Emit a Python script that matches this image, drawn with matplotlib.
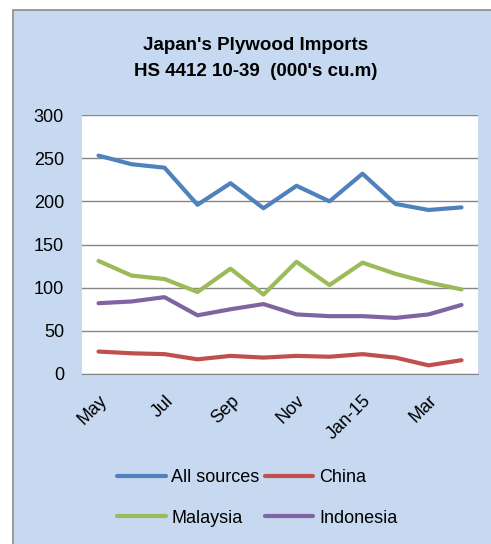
import matplotlib
matplotlib.use("Agg")
import matplotlib.pyplot as plt
from matplotlib.patches import Rectangle

months = ["May", "Jun", "Jul", "Aug", "Sep", "Oct", "Nov", "Dec", "Jan-15", "Feb", "Mar", "Apr"]
tick_labels = ["May", "", "Jul", "", "Sep", "", "Nov", "", "Jan-15", "", "Mar", ""]
all_sources = [253, 243, 239, 196, 221, 192, 218, 200, 232, 197, 190, 193]
china = [26, 24, 23, 17, 21, 19, 21, 20, 23, 19, 10, 16]
malaysia = [131, 114, 110, 95, 122, 92, 130, 103, 129, 116, 106, 98]
indonesia = [82, 84, 89, 68, 75, 81, 69, 67, 67, 65, 69, 80]

plt.rcParams['font.family'] = ['Liberation Sans', 'DejaVu Sans']

W, H = 491, 544
fig = plt.figure(figsize=(W/100, H/100), dpi=100, facecolor="white")

bg = fig.add_axes([0, 0, 1, 1], zorder=-10)
bg.set_xlim(0, W)
bg.set_ylim(H, 0)
bg.axis("off")
bg.add_patch(Rectangle((13, 10), W, H, facecolor="#C6D9F1", edgecolor="#8C8C8C", linewidth=1.2))

ax = fig.add_axes([82/W, 1-374/H, (478-82)/W, (374-115)/H], zorder=1)
ax.set_facecolor("white")
x = list(range(len(months)))
ax.plot(x, all_sources, color="#4F81BD", lw=3, label="All sources", solid_capstyle="round")
ax.plot(x, china, color="#C0504D", lw=3, label="China", solid_capstyle="round")
ax.plot(x, malaysia, color="#9BBB59", lw=3, label="Malaysia", solid_capstyle="round")
ax.plot(x, indonesia, color="#8064A2", lw=3, label="Indonesia", solid_capstyle="round")

ax.set_ylim(0, 300)
ax.set_xlim(-0.5, 11.5)
ax.set_yticks(range(0, 301, 50))
ax.tick_params(axis='y', length=0, labelsize=13, pad=13)
ax.set_xticks(x)
ax.set_xticklabels(tick_labels, rotation=45, ha="right", rotation_mode="anchor", fontsize=13)
ax.tick_params(axis='x', length=0, pad=13)
ax.grid(axis='y', color="#868686", lw=1)
ax.set_axisbelow(True)
for s in ["top", "right", "left"]:
    ax.spines[s].set_visible(False)
ax.spines["bottom"].set_color("#868686")

fig.text(256/W, 1-45/H, "Japan's Plywood Imports", ha="center", va="center",
         fontsize=13.5, fontweight="bold")
fig.text(256/W, 1-72/H, "HS 4412 10-39  (000's cu.m)", ha="center", va="center",
         fontsize=13.5, fontweight="bold")

handles, labels = ax.get_legend_handles_labels()
order = [0, 2, 1, 3]
fig.legend([handles[i] for i in order], [labels[i] for i in order], ncol=2, loc="center",
           bbox_to_anchor=(257/W, 1-498/H),
           frameon=False, fontsize=13, handlelength=2.7, handletextpad=0.3,
           columnspacing=0.3, labelspacing=1.3)

fig.savefig("out.png", dpi=100, facecolor="white")
